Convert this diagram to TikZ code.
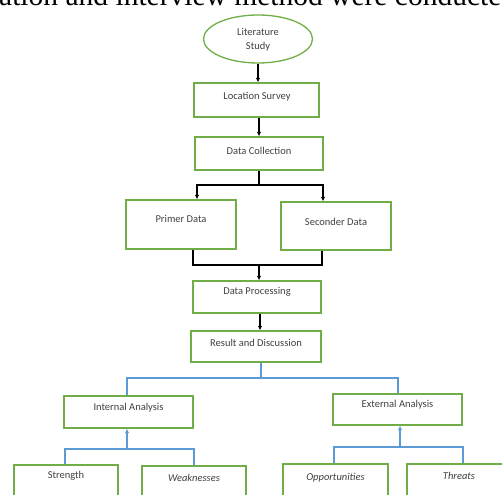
\documentclass[tikz,border=0pt]{standalone}
\usepackage{fontspec}
\setmainfont{Carlito}
\newfontfamily\serifpart{Liberation Serif}
\usetikzlibrary{arrows.meta,shapes.geometric}
\definecolor{boxgreen}{HTML}{70AD47}
\definecolor{linkblue}{HTML}{5B9BD5}
\definecolor{txtgray}{HTML}{404040}
\begin{document}
\begin{tikzpicture}[x=1pt,y=-1pt,
  box/.style={draw=boxgreen, line width=1.3pt, rectangle, inner sep=0pt},
  lbl/.style={text=txtgray, font=\fontsize{10.5}{12}\selectfont, inner sep=0pt},
  ilbl/.style={lbl, font=\fontsize{10.5}{12}\selectfont\itshape},
  blk/.style={draw=black, line width=1.2pt},
  blu/.style={draw=linkblue, line width=1.3pt},
  arr/.style={-{Latex[length=4.5pt,width=4.5pt]}}]
\useasboundingbox (0,0) rectangle (502,494);
\clip (0,0) rectangle (502,494);
% cropped sentence at the top
\node[anchor=base west, inner sep=0pt, font=\serifpart\fontsize{29.5}{30}\selectfont] (sent) at (-1,5.5) {ation and interview method were conducte};
% ellipse
\node[ellipse, draw=boxgreen, line width=1.3pt, minimum width=109, minimum height=48, inner sep=0pt] (lit) at (258,39) {};
\node[lbl, align=center] (litt) at (258,40) {Literature\\[2pt]Study};
% boxes
\node[box, minimum width=125, minimum height=34] (ls) at (256.5,100) {};
\node[lbl] (lst) at (257,96.5) {Location Survey};
\node[box, minimum width=128, minimum height=33] (dc) at (259,153.5) {};
\node[lbl] (dct) at (259,150.5) {Data Collection};
\node[box, minimum width=110, minimum height=49] (pd) at (181,224.5) {};
\node[lbl] (pdt) at (181,219) {Primer Data};
\node[box, minimum width=110, minimum height=48] (sd) at (336,226) {};
\node[lbl] (sdt) at (336,221.5) {Seconder Data};
\node[box, minimum width=128, minimum height=32] (dp) at (257,297) {};
\node[lbl] (dpt) at (257,292) {Data Processing};
\node[box, minimum width=130, minimum height=31] (rd) at (256,346.5) {};
\node[lbl] (rdt) at (256,342.5) {Result and Discussion};
\node[box, minimum width=129, minimum height=32] (ia) at (128.5,412) {};
\node[lbl] (iat) at (128.5,408) {Internal Analysis};
\node[box, minimum width=129, minimum height=31] (ea) at (397.5,409.5) {};
\node[lbl] (eat) at (397.5,405) {External Analysis};
\node[box, minimum width=104, minimum height=50] (st) at (66,490) {};
\node[lbl] (stt) at (66,476) {Strength};
\node[box, minimum width=104, minimum height=50] (wk) at (194,491) {};
\node[ilbl] (wkt) at (194,477.5) {Weaknesses};
\node[box, minimum width=105, minimum height=50] (op) at (335.5,489) {};
\node[ilbl] (opt) at (335.5,478) {Opportunities};
\node[box, minimum width=104, minimum height=50] (th) at (459,489) {};
\node[ilbl] (tht) at (459,476) {Threats};
% black connectors
\draw[blk,arr] (lit.south) -- (lit.south |- ls.north);
\draw[blk,arr] (ls.south -| dc.south) -- (dc.north);
\coordinate (split) at (259,185);
\draw[blk] (dc.south) -- (split);
\draw[blk,arr] (split) -| ([xshift=16]pd.north);
\draw[blk,arr] (split) -| ([xshift=-13]sd.north);
\coordinate (merge) at (259,265);
\draw[blk] ([xshift=12]pd.south) |- (merge);
\draw[blk] ([xshift=-14]sd.south) |- (merge);
\draw[blk,arr] (merge) -- (merge |- dp.north);
\draw[blk,arr] (dp.south -| 260,0) -- (rd.north -| 260,0);
% blue connectors
\coordinate (rsplit) at (261,378);
\draw[blu] (rd.south -| rsplit) -- (rsplit);
\draw[blu] (rsplit) -| ([xshift=-1.5]ia.north);
\draw[blu] (rsplit) -| ([xshift=0.5]ea.north);
\coordinate (imerge) at (127,449);
\draw[blu] ([xshift=-1]st.north) |- (imerge);
\draw[blu] (wk.north) |- (imerge);
\draw[blu,arr] (imerge) -- (imerge |- ia.south);
\coordinate (emerge) at (400,447);
\draw[blu] ([xshift=-1.5]op.north) |- (emerge);
\draw[blu] ([xshift=4]th.north) |- (emerge);
\draw[blu,arr] (emerge) -- (emerge |- ea.south);
\end{tikzpicture}
\end{document}
